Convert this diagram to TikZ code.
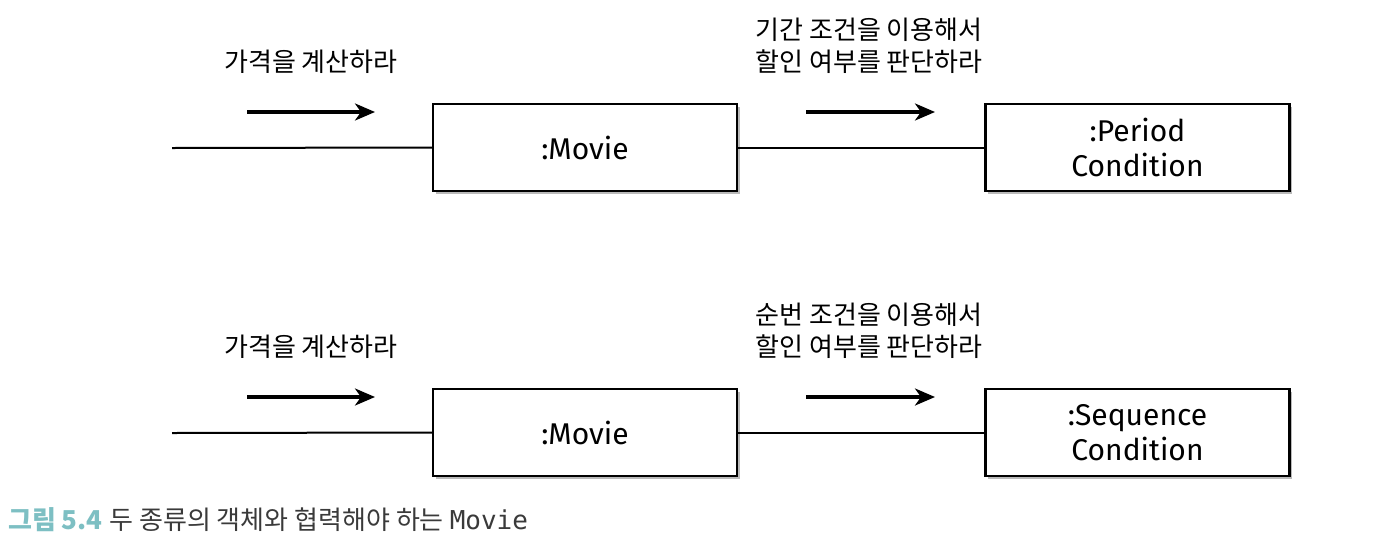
\documentclass[tikz,border=0pt]{standalone}
\usepackage{fontspec}
\setmainfont{Fira Sans}
\newfontfamily\kr{Noto Sans CJK KR}
\setmonofont{DejaVu Sans Mono}
\usetikzlibrary{shadows,arrows.meta}
\definecolor{capteal}{HTML}{7DBFC3}
\definecolor{capgray}{HTML}{3A3A3A}
\begin{document}
\begin{tikzpicture}[x=1pt,y=-1pt,
  objbox/.style={draw=black, line width=2.2pt, fill=white, minimum width=304pt, minimum height=87pt, inner sep=0pt, align=center, font=\fontsize{30}{35}\selectfont,
    drop shadow={shadow xshift=2.5pt, shadow yshift=-3pt, fill=black!45, opacity=0.6}},
  wire/.style={line width=2pt},
  msg/.style={line width=3.2pt, -{Stealth[length=20pt,width=17pt,inset=6pt]}},
  lbl/.style={font=\kr\fontsize{26}{32}\selectfont, align=center, inner sep=0pt}]
\useasboundingbox (0,0) rectangle (1390,558);
\fill[white] (0,0) rectangle (1390,558);
% top row
\coordinate (s1) at (172,148);
\node[objbox] (m1) at (585,147.5) {:Movie};
\node[objbox] (p1) at (1137.5,147.5) {:Period\\Condition};
\draw[wire] (s1) -- (m1.west);
\draw[wire] (m1.east) -- (p1.west);
\coordinate (a1s) at (247,112); \coordinate (a1e) at (375,112);
\draw[msg] (a1s) -- (a1e);
\coordinate (a2s) at (806,112); \coordinate (a2e) at (935,112);
\draw[msg] (a2s) -- (a2e);
\node[lbl] (l1) at (311,62) {가격을 계산하라};
\node[lbl] (l2) at (869,46) {기간 조건을 이용해서\\할인 여부를 판단하라};
% bottom row
\coordinate (s2) at (172,433);
\node[objbox] (m2) at (585,432.5) {:Movie};
\node[objbox] (p2) at (1137.5,432.5) {:Sequence\\Condition};
\draw[wire] (s2) -- (m2.west);
\draw[wire] (m2.east) -- (p2.west);
\coordinate (b1s) at (247,397); \coordinate (b1e) at (375,397);
\draw[msg] (b1s) -- (b1e);
\coordinate (b2s) at (806,397); \coordinate (b2e) at (935,397);
\draw[msg] (b2s) -- (b2e);
\node[lbl] (l3) at (311,347) {가격을 계산하라};
\node[lbl] (l4) at (869,331) {순번 조건을 이용해서\\할인 여부를 판단하라};
% caption
\node[anchor=west, inner sep=0pt, font=\fontsize{26}{30}\selectfont] (cap) at (8,520)
  {\textcolor{capteal}{\kr\bfseries 그림 5.4} \textcolor{capgray}{\kr 두 종류의 객체와 협력해야 하는 \texttt{Movie}}};
\end{tikzpicture}
\end{document}
